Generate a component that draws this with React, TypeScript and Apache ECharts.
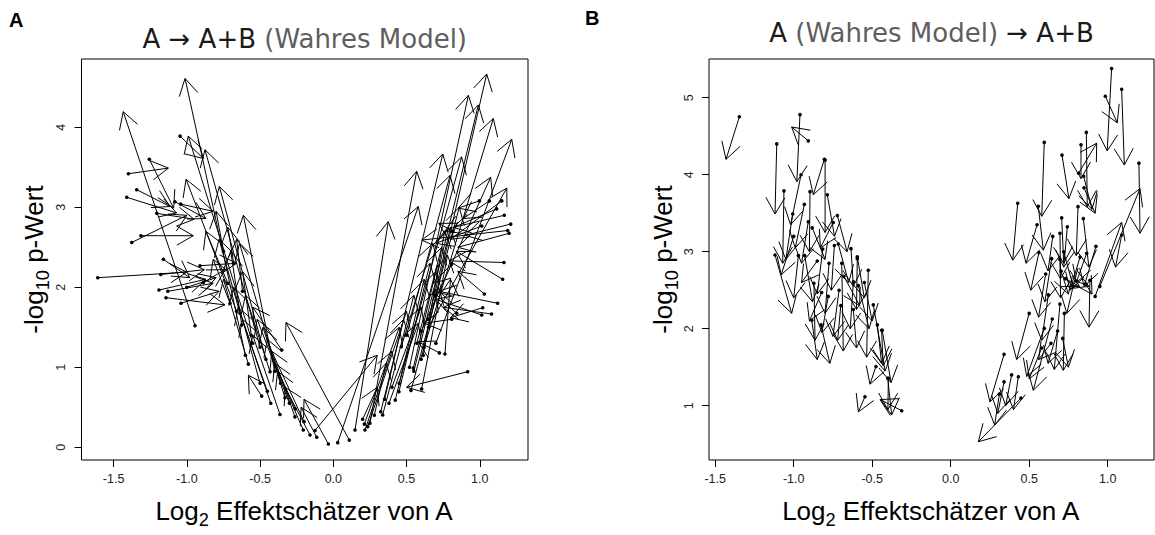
import React, { useEffect, useRef } from "react";
import * as echarts from "echarts";

// ---------- Panel A: [x0, y0, x1, y1]  (dot = start, arrow tip = end) ----------
const aLeftIn: number[][] = [
  [-1.399, 3.42, -1.126, 3.49], [-1.256, 3.6, -1.09, 2.99], [-1.342, 3.22, -1.115, 3.01],
  [-1.41, 3.125, -1.07, 2.93], [-1.313, 2.645, -0.956, 2.645], [-1.376, 2.56, -1.0, 2.9],
  [-1.608, 2.12, -1.0, 2.19], [-1.178, 2.16, -0.88, 2.22], [-1.16, 2.35, -0.98, 2.12],
  [-1.19, 1.966, -0.87, 2.1], [-1.13, 1.95, -0.82, 2.05], [-1.142, 1.87, -0.74, 1.78],
  [-1.04, 1.8, -0.78, 1.95], [-1.0, 2.0, -0.8, 2.12], [-1.205, 2.925, -0.95, 2.85],
  [-1.081, 3.07, -0.87, 2.86], [-1.042, 3.04, -0.82, 2.95], [-1.046, 3.89, -0.887, 3.61],
  [-0.91, 2.27, -0.66, 2.3], [-0.887, 2.06, -0.74, 2.22],
];
const aLeftLong: number[][] = [
  [-0.944, 1.52, -1.434, 4.195], [-0.6, 1.15, -1.012, 4.61], [-0.55, 1.3, -0.99, 3.89],
  [-0.5, 1.25, -0.876, 3.72], [-0.46, 1.1, -0.778, 3.26], [-0.66, 1.7, -1.005, 3.35],
  [-0.4, 0.95, -0.614, 2.9], [-0.36, 0.8, -0.64, 2.55], [0.109, 0.09, -0.323, 1.56],
];
const aLeftBand: number[][] = [
  [-0.58, 1.04, -0.75, 2.1], [-0.489, 0.64, -0.58, 0.9], [-0.427, 0.55, -0.62, 1.6],
  [-0.364, 0.41, -0.55, 1.4], [-0.262, 0.38, -0.45, 1.35], [-0.2, 0.32, -0.42, 1.2],
  [-0.205, 0.216, -0.38, 0.95], [-0.159, 0.154, -0.33, 0.75], [-0.125, 0.21, 0.3, 1.15],
  [-0.352, 1.216, -0.55, 1.75], [-0.625, 1.53, -0.7, 2.45], [-0.705, 1.8, -0.82, 2.35],
  [-0.637, 1.675, -0.78, 2.6], [-0.432, 0.945, -0.6, 1.9], [-0.72, 2.05, -0.87, 2.7],
  [-0.68, 2.3, -0.72, 2.75], [-0.3, 0.55, -0.52, 1.6], [-0.26, 0.48, -0.4, 1.05],
  [-0.5, 0.8, -0.68, 2.0], [-0.45, 0.7, -0.65, 1.75], [-0.33, 0.62, -0.48, 1.5],
  [-0.56, 1.4, -0.62, 2.2], [-0.75, 2.45, -0.8, 2.95], [-0.62, 1.95, -0.66, 2.6],
  [-0.113, 0.125, -0.22, 0.5], [-0.034, 0.041, -0.2, 0.6],
];
const aRightOut: number[][] = [
  [0.6, 1.1, 1.047, 4.666], [0.52, 1.0, 0.922, 4.4], [0.55, 0.95, 0.99, 4.28],
  [0.62, 1.25, 1.092, 4.11], [0.7, 1.3, 1.218, 3.85], [0.35, 0.6, 0.747, 3.666],
  [0.45, 0.8, 0.876, 3.63], [0.25, 0.3, 0.569, 3.45], [0.6, 1.45, 1.074, 3.375],
  [0.65, 1.5, 1.184, 3.24], [0.148, 0.216, 0.375, 2.82], [0.5, 1.4, 0.797, 3.4],
  [0.03, 0.058, 0.58, 3.01],
];
const aRightBand: number[][] = [
  [0.212, 0.29, 0.45, 1.5], [0.216, 0.216, 0.4, 1.2], [0.235, 0.258, 0.5, 1.7],
  [0.337, 0.404, 0.55, 1.9], [0.324, 0.445, 0.48, 1.6], [0.423, 0.59, 0.62, 2.1],
  [0.448, 0.695, 0.66, 2.3], [0.53, 0.71, 0.72, 2.0], [0.603, 0.729, 0.78, 2.4],
  [0.464, 1.257, 0.68, 2.55], [0.546, 0.99, 0.7, 2.2], [0.614, 1.15, 0.76, 2.7],
  [0.762, 1.166, 0.8, 2.1], [0.724, 1.18, 0.58, 1.32], [0.2, 0.35, 0.3, 0.75],
  [0.28, 0.4, 0.36, 1.05], [0.38, 0.55, 0.58, 1.55], [0.4, 0.75, 0.6, 1.75],
  [0.57, 1.3, 0.74, 2.5], [0.65, 1.6, 0.8, 2.75], [0.7, 1.9, 0.86, 3.0],
];
const aRightIn: number[][] = [
  [1.165, 2.31, 0.79, 2.33], [1.156, 2.1, 0.84, 2.45], [1.031, 1.916, 0.85, 2.2],
  [1.122, 1.8, 0.72, 1.95], [1.08, 1.666, 0.75, 1.75], [1.013, 1.654, 0.7, 1.85],
  [1.02, 1.745, 0.8, 1.62], [0.917, 0.945, 0.5, 0.75], [0.842, 1.675, 0.68, 1.95],
  [0.808, 1.6, 0.62, 1.55], [0.997, 3.08, 0.853, 2.99], [1.065, 3.08, 0.887, 2.86],
  [1.15, 3.08, 0.8, 2.6], [1.115, 2.98, 0.76, 2.7], [1.167, 2.9, 0.82, 2.75],
  [1.013, 2.766, 0.7, 2.55], [1.211, 2.79, 0.9, 2.65], [1.19, 2.71, 0.603, 2.59],
  [1.2, 2.675, 0.85, 2.5], [0.815, 2.7, 0.72, 2.8], [0.808, 2.29, 0.68, 2.05],
];

// ---------- Panel B ----------
const bLeft: number[][] = [
  [-1.346, 4.753, -1.431, 4.2], [-0.96, 4.78, -0.98, 3.91], [-0.907, 4.44, -1.013, 4.62],
  [-1.108, 4.4, -1.119, 3.49], [-0.953, 4.0, -1.02, 3.35], [-0.805, 4.2, -0.875, 3.74],
  [-0.8, 4.19, -0.8, 3.25], [-1.062, 3.79, -1.07, 2.85], [-0.896, 3.78, -0.9, 3.0],
  [-0.786, 3.74, -0.74, 3.2], [-0.932, 3.615, -0.99, 3.05], [-1.006, 3.49, -1.05, 2.9],
  [-0.722, 3.47, -0.66, 3.0], [-0.748, 3.38, -0.83, 3.05], [-0.907, 3.39, -0.95, 2.85],
  [-0.882, 3.31, -0.8, 2.9], [-1.119, 2.957, -1.013, 2.2], [-0.741, 3.08, -0.76, 2.5],
  [-0.716, 3.1, -0.65, 2.6], [-0.635, 3.04, -0.62, 2.55], [-0.595, 2.935, -0.55, 2.4],
  [-0.815, 3.035, -0.85, 2.45], [-0.871, 2.59, -0.864, 1.85], [-0.822, 2.47, -0.9, 2.1],
  [-0.525, 2.76, -0.535, 1.63], [-0.595, 2.91, -0.6, 2.25], [-0.694, 2.85, -0.684, 1.71],
  [-0.775, 2.85, -0.8, 2.2], [-0.62, 2.61, -0.64, 2.0], [-0.588, 2.56, -0.52, 2.0],
  [-0.711, 2.5, -0.75, 1.9], [-0.493, 2.31, -0.418, 1.45], [-0.885, 2.11, -0.85, 1.6],
  [-0.826, 2.05, -0.77, 1.55], [-0.467, 2.05, -0.44, 1.55], [-0.436, 1.98, -0.38, 1.3],
  [-0.476, 1.51, -0.514, 1.28], [-0.401, 1.356, -0.376, 0.88], [-0.546, 1.117, -0.588, 0.92],
  [-0.312, 0.935, -0.45, 1.08], [-0.397, 1.356, -0.4, 0.95], [-0.44, 1.98, -0.43, 1.52],
  [-1.0, 3.2, -1.08, 2.7], [-0.97, 2.95, -1.0, 2.4], [-0.93, 2.95, -0.88, 2.35],
  [-0.78, 2.42, -0.82, 1.95], [-0.7, 2.3, -0.72, 1.85], [-0.62, 2.25, -0.6, 1.75],
  [-0.55, 2.6, -0.5, 2.1], [-0.85, 2.88, -0.95, 2.6], [-0.68, 2.68, -0.58, 2.3],
];
const bRight: number[][] = [
  [1.025, 5.38, 0.997, 4.31], [0.985, 5.02, 1.061, 4.675], [1.089, 5.11, 1.106, 4.126],
  [0.596, 4.42, 0.58, 3.46], [0.709, 4.255, 0.753, 3.69], [0.864, 4.55, 0.87, 3.585],
  [0.83, 4.39, 0.83, 3.95], [0.815, 4.02, 0.93, 4.41], [0.847, 3.98, 0.9, 3.55],
  [0.849, 3.83, 0.92, 3.5], [0.427, 3.63, 0.395, 2.89], [0.558, 3.59, 0.59, 3.02],
  [0.707, 3.44, 0.72, 2.85], [0.811, 3.585, 0.8, 2.95], [0.845, 3.43, 0.88, 2.8],
  [0.743, 3.325, 0.72, 2.8], [0.696, 3.24, 0.7, 2.65], [1.199, 4.15, 1.206, 3.24],
  [0.92, 2.42, 1.089, 3.38], [0.95, 2.55, 1.206, 3.82], [1.089, 3.217, 1.05, 2.8],
  [0.562, 2.99, 0.51, 2.5], [0.643, 2.91, 0.6, 2.35], [0.696, 2.9, 0.7, 2.4],
  [0.605, 2.71, 0.56, 2.15], [0.622, 2.44, 0.58, 1.85], [0.696, 2.32, 0.66, 1.47],
  [0.724, 2.2, 0.717, 1.46], [0.647, 2.126, 0.526, 1.2], [0.596, 2.005, 0.484, 1.38],
  [0.681, 1.97, 0.62, 1.55], [0.713, 1.875, 0.75, 1.5], [0.639, 1.81, 0.56, 1.6],
  [0.824, 2.93, 0.76, 2.5], [0.866, 2.98, 0.8, 2.6], [0.925, 3.07, 0.85, 2.55],
  [0.703, 2.75, 0.75, 2.45], [0.732, 2.65, 0.82, 2.55], [0.887, 2.63, 0.881, 2.02],
  [0.34, 1.667, 0.25, 1.05], [0.388, 1.4, 0.35, 1.0], [0.431, 1.377, 0.4, 0.95],
  [0.34, 1.31, 0.3, 0.9], [0.31, 1.15, 0.28, 0.75], [0.448, 1.1, 0.176, 0.532],
  [0.8, 2.62, 0.88, 2.55], [0.86, 2.58, 0.9, 2.45], [0.78, 2.55, 0.74, 2.2],
  [0.55, 3.35, 0.48, 2.85], [0.65, 3.2, 0.62, 2.75], [0.5, 2.2, 0.42, 1.6],
  [0.58, 1.75, 0.5, 1.35], [0.72, 3.0, 0.78, 2.55],
];

// ---------- axes ----------
const xTicks = [-1.5, -1.0, -0.5, 0.0, 0.5, 1.0];
const yTicksA = [0, 1, 2, 3, 4];
const yTicksB = [1, 2, 3, 4, 5];
const rangeA = { xMin: -1.719, xMax: 1.329, yMin: -0.159, yMax: 4.854 };
const rangeB = { xMin: -1.5395, xMax: 1.295, yMin: 0.295, yMax: 5.503 };

const titleA = [
  { t: "A → A+B", c: "#1a1a1a" },
  { t: " (Wahres Model)", c: "#5e5e5e" },
];
const titleB = [
  { t: "A", c: "#1a1a1a" },
  { t: " (Wahres Model)", c: "#5e5e5e" },
  { t: " → A+B", c: "#1a1a1a" },
];

const SANS = "Liberation Sans";
const TFONT = "DejaVu Sans";
const HEAD = 19;
const ANG = Math.PI / 6;

let ctx: CanvasRenderingContext2D | null = null;
function measure(text: string, size: number, family: string, weight = "normal") {
  if (!ctx) ctx = document.createElement("canvas").getContext("2d");
  ctx!.font = `${weight} ${size}px "${family}"`;
  return ctx!.measureText(text).width;
}

type Run = { t: string; size: number; color: string; dy: number; family: string; weight?: string };
function runGroup(runs: Run[], x: number, y: number, rotation = 0) {
  const widths = runs.map((r) => measure(r.t, r.size, r.family, r.weight || "normal"));
  const total = widths.reduce((a, b) => a + b, 0);
  let off = -total / 2;
  const children = runs.map((r, i) => {
    const el = {
      type: "text",
      x: off,
      y: r.dy,
      silent: true,
      style: {
        text: r.t,
        fontSize: r.size,
        fontFamily: r.family,
        fontWeight: r.weight || "normal",
        fill: r.color,
        align: "left",
        verticalAlign: "middle",
      },
    };
    off += widths[i];
    return el;
  });
  return { type: "group", x, y, rotation, children };
}

function renderArrow(_params: any, api: any) {
  const p0 = api.coord([api.value(0), api.value(1)]);
  const p1 = api.coord([api.value(2), api.value(3)]);
  const th = Math.atan2(p1[1] - p0[1], p1[0] - p0[0]);
  const a1 = [p1[0] - HEAD * Math.cos(th - ANG), p1[1] - HEAD * Math.sin(th - ANG)];
  const a2 = [p1[0] - HEAD * Math.cos(th + ANG), p1[1] - HEAD * Math.sin(th + ANG)];
  const st = { stroke: "#000", lineWidth: 1, fill: null };
  return {
    type: "group",
    children: [
      { type: "line", shape: { x1: p0[0], y1: p0[1], x2: p1[0], y2: p1[1] }, style: st },
      { type: "polyline", shape: { points: [a1, p1, a2] }, style: st },
      { type: "circle", shape: { cx: p0[0], cy: p0[1], r: 1.8 }, style: { fill: "#000" } },
    ],
  };
}

const gridA = { left: 81.5, top: 59, width: 446.5, height: 401 };
const gridB = { left: 709, top: 59, width: 445, height: 401 };

function xAxis(gridIndex: number, r: any) {
  return {
    type: "value", gridIndex, min: r.xMin, max: r.xMax, position: "bottom",
    axisLine: { show: false, onZero: false }, splitLine: { show: false },
    axisTick: { show: true, customValues: xTicks, length: 7, lineStyle: { color: "#000", width: 1 } },
    axisLabel: {
      show: true, customValues: xTicks, formatter: (v: number) => v.toFixed(1),
      fontSize: 12.5, color: "#222", fontFamily: SANS, margin: 12,
    },
  };
}
function yAxis(gridIndex: number, r: any, ticks: number[]) {
  return {
    type: "value", gridIndex, min: r.yMin, max: r.yMax, position: "left",
    axisLine: { show: false, onZero: false }, splitLine: { show: false },
    axisTick: { show: true, customValues: ticks, length: 7, lineStyle: { color: "#000", width: 1 } },
    axisLabel: {
      show: true, customValues: ticks, formatter: (v: number) => String(v),
      fontSize: 12.5, color: "#222", fontFamily: SANS, margin: 14, rotate: 90,
    },
  };
}

export default function App() {
  const ref = useRef<HTMLDivElement>(null);
  useEffect(() => {
    if (!ref.current) return;
    const chart = echarts.init(ref.current, null, { renderer: "svg" });
    const LAB = 26;
    const sub = LAB * 0.7;
    const xTitle = (cx: number) =>
      runGroup(
        [
          { t: "Log", size: LAB, color: "#000", dy: 0, family: SANS },
          { t: "2", size: sub, color: "#000", dy: LAB * 0.35, family: SANS },
          { t: " Effektschätzer von A", size: LAB, color: "#000", dy: 0, family: SANS },
        ],
        cx, 511
      );
    const yTitle = (cx: number) =>
      runGroup(
        [
          { t: "-log", size: LAB, color: "#000", dy: 0, family: SANS },
          { t: "10", size: sub, color: "#000", dy: LAB * 0.35, family: SANS },
          { t: " p-Wert", size: LAB, color: "#000", dy: 0, family: SANS },
        ],
        cx, 259.5, Math.PI / 2
      );
    const TS = 26;
    const mainTitle = (parts: any[], cx: number, cy: number) =>
      runGroup(parts.map((p) => ({ t: p.t, size: TS, color: p.c, dy: 0, family: TFONT })), cx, cy);

    const option: any = {
      animation: false,
      backgroundColor: "#fff",
      grid: [
        { ...gridA, show: true, borderColor: "#000", borderWidth: 1, backgroundColor: "transparent" },
        { ...gridB, show: true, borderColor: "#000", borderWidth: 1, backgroundColor: "transparent" },
      ],
      xAxis: [xAxis(0, rangeA), xAxis(1, rangeB)],
      yAxis: [yAxis(0, rangeA, yTicksA), yAxis(1, rangeB, yTicksB)],
      series: [
        {
          type: "custom", xAxisIndex: 0, yAxisIndex: 0, clip: true, silent: true,
          renderItem: renderArrow,
          data: [...aLeftIn, ...aLeftLong, ...aLeftBand, ...aRightOut, ...aRightBand, ...aRightIn],
        },
        {
          type: "custom", xAxisIndex: 1, yAxisIndex: 1, clip: true, silent: true,
          renderItem: renderArrow,
          data: [...bLeft, ...bRight],
        },
      ],
      graphic: [
        { type: "text", left: 9, top: 10, silent: true,
          style: { text: "A", fontSize: 20, fontWeight: "bold", fontFamily: SANS, fill: "#000" } },
        { type: "text", left: 585, top: 8, silent: true,
          style: { text: "B", fontSize: 20, fontWeight: "bold", fontFamily: SANS, fill: "#000" } },
        mainTitle(titleA, gridA.left + gridA.width / 2, 39),
        mainTitle(titleB, gridB.left + gridB.width / 2, 33),
        xTitle(gridA.left + gridA.width / 2),
        xTitle(gridB.left + gridB.width / 2),
        yTitle(gridA.left - 48),
        yTitle(gridB.left - 46),
      ],
    };
    chart.setOption(option);
    return () => chart.dispose();
  }, []);
  return (
    <div
      ref={ref}
      style={{ position: "fixed", left: 0, top: 0, width: 1155, height: 535, background: "#fff" }}
    />
  );
}
